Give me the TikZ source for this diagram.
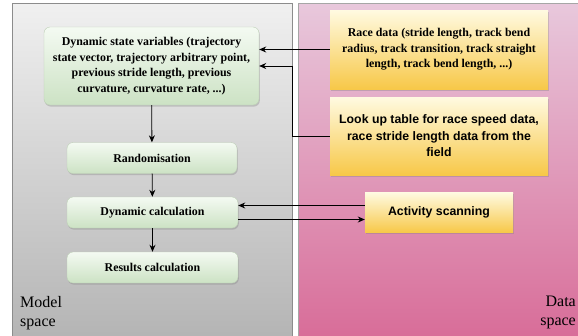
\documentclass[tikz,border=0pt]{standalone}
\usepackage{fontspec}
\setmainfont{Liberation Serif}
\setsansfont{Liberation Sans}
\usetikzlibrary{shadows,arrows.meta}
\definecolor{modeltop}{RGB}{240,240,240}
\definecolor{modelbot}{RGB}{180,180,180}
\definecolor{datatop}{RGB}{232,200,220}
\definecolor{databot}{RGB}{216,108,152}
\definecolor{greentop}{RGB}{244,250,242}
\definecolor{greenbot}{RGB}{204,226,196}
\definecolor{yellowtop}{RGB}{255,250,225}
\definecolor{yellowbot}{RGB}{247,200,72}
\begin{document}
\begin{tikzpicture}[x=1pt,y=-1pt,
    modelbox/.style={rounded corners=6pt,draw=greenbot!80!gray,
      top color=greentop,bottom color=greenbot,
      drop shadow={opacity=0.35,shadow xshift=0.8pt,shadow yshift=-1.6pt},
      align=center,font=\bfseries\fontsize{11.9}{15.5}\selectfont},
    databox/.style={top color=yellowtop,bottom color=yellowbot,
      drop shadow={opacity=0.35,shadow xshift=0.8pt,shadow yshift=-1.6pt},
      align=center,font=\bfseries\fontsize{11.9}{15.5}\selectfont},
    link/.style={-{Stealth[length=7pt,width=6pt]},thick}]
  \useasboundingbox (0,0) rectangle (578,335);
  % spaces
  \shade[top color=modeltop,bottom color=modelbot,draw=gray!90] (12,3) rectangle (292,340);
  \shade[top color=datatop,bottom color=databot,draw=gray!70] (298,3) rectangle (580,340);
  \node[anchor=north west,align=left,font=\fontsize{16}{19}\selectfont,inner sep=0pt] (model) at (20,296) {Model\\space};
  \node[anchor=north east,align=right,font=\fontsize{16}{19}\selectfont,inner sep=0pt] (data) at (576,296) {Data\\space};
  % model space
  \node[modelbox,minimum width=215pt,minimum height=78pt] (dsv) at (151.5,66)
    {Dynamic state variables (trajectory\\state vector, trajectory arbitrary point,\\previous stride length, previous\\curvature, curvature rate, ...)};
  \node[modelbox,minimum width=170pt,minimum height=31pt] (rand) at (152,158) {Randomisation};
  \node[modelbox,minimum width=171pt,minimum height=31pt] (dyn) at (152.5,212.5) {Dynamic calculation};
  \node[modelbox,minimum width=171pt,minimum height=31pt] (res) at (152.5,267.5) {Results calculation};
  % data space
  \node[databox,minimum width=218pt,minimum height=79pt] (race) at (439,49.5)
    {Race data (stride length, track bend\\radius, track transition, track straight\\length, track bend length, ...)};
  \node[databox,minimum width=218pt,minimum height=78pt,font=\sffamily\bfseries\fontsize{12.3}{16.5}\selectfont] (lut) at (439,136)
    {Look up table for race speed data,\\race stride length data from the\\field};
  \node[databox,minimum width=148pt,minimum height=40pt,font=\sffamily\bfseries\fontsize{12.3}{16.5}\selectfont] (act) at (439,212.5) {Activity scanning};
  \begin{scope}[link]
    \draw (dsv) -- (rand);
    \draw (rand) -- (dyn);
    \draw (dyn) -- (res);
    \draw (race.west) -- (race.west -| dsv.east);
    \draw (lut.west) -- ++(-37,0) |- (dsv.east);
    \draw ([yshift=7pt]act.west) -- ([yshift=7pt]dyn.east);
    \draw ([yshift=-7pt]dyn.east) -- ([yshift=-7pt]act.west);
  \end{scope}
\end{tikzpicture}
\end{document}
